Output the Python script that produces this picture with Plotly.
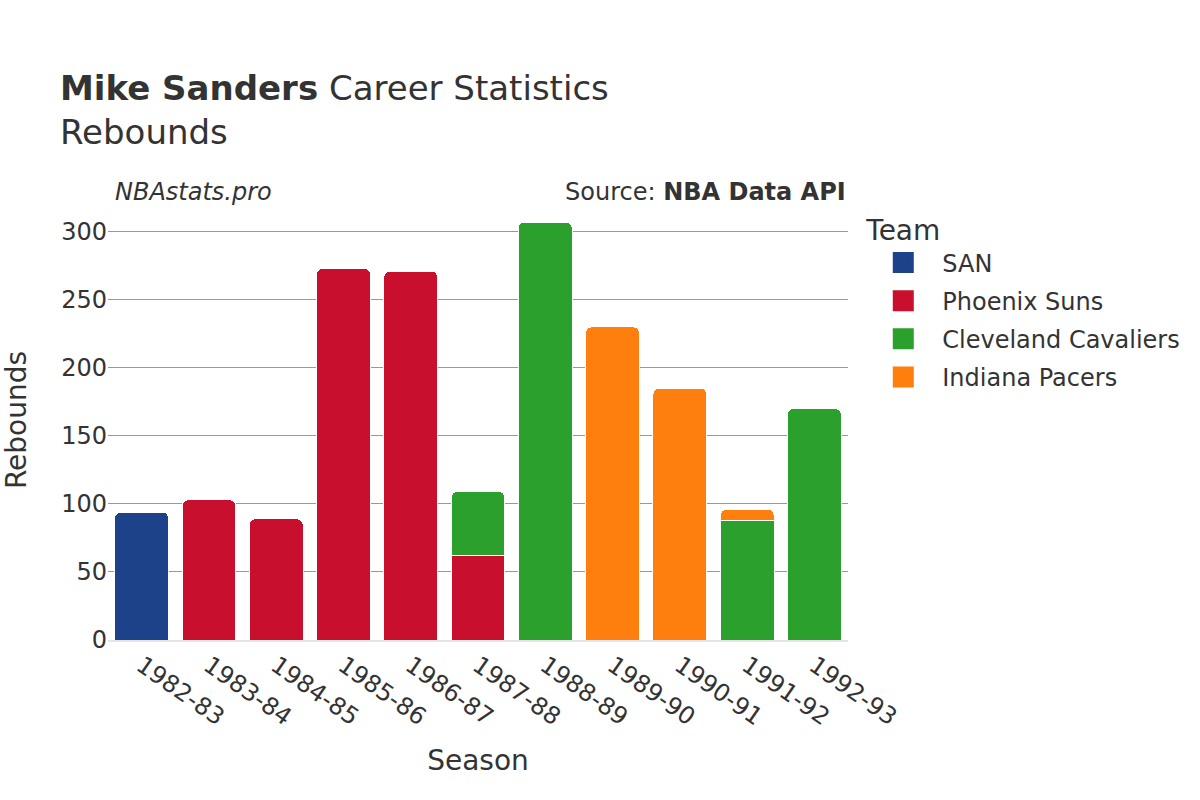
import plotly.graph_objects as go

seasons = ["1982-83", "1983-84", "1984-85", "1985-86", "1986-87", "1987-88",
           "1988-89", "1989-90", "1990-91", "1991-92", "1992-93"]
teams = ["SAN", "Phoenix Suns", "Cleveland Cavaliers", "Indiana Pacers"]
colors = ["#1d428a", "#c8102e", "#2ca02c", "#ff7f0e"]
san = [94, None, None, None, None, None, None, None, None, None, None]
phx = [None, 103, 89, 273, 271, 62, None, None, None, None, None]
cle = [None, None, None, None, None, 47, 307, None, None, 88, 170]
ind = [None, None, None, None, None, None, None, 230, 185, 8, None]
series = [san, phx, cle, ind]

fig = go.Figure()
for name, vals, col in zip(teams, series, colors):
    fig.add_trace(go.Bar(x=seasons, y=vals, name=name, showlegend=False,
                         marker=dict(color=col, line=dict(color="white", width=1))))
for name, col in zip(teams, colors):
    fig.add_trace(go.Scatter(x=[None], y=[None], mode="markers", name=name,
                             legendgroup=name,
                             marker=dict(symbol="square", size=16, color=col,
                                         line=dict(color=col, width=5))))

font = "DejaVu Sans"
fig.update_layout(
    barmode="stack",
    barcornerradius=6,
    width=1200, height=800,
    paper_bgcolor="white", plot_bgcolor="white",
    font=dict(family=font, color="#333333", size=24),
    margin=dict(l=108, r=352, t=200, b=160),
    title=dict(text="<b>Mike Sanders</b> Career Statistics<br>Rebounds",
               x=0.05, xanchor="left", y=0.875, yanchor="top",
               font=dict(size=34, family=font, color="#333333")),
    legend=dict(title=dict(text="Team", font=dict(size=28)), font=dict(size=24),
                x=1.022, xanchor="left", y=0.991, yanchor="top",
                traceorder="grouped", itemwidth=68, tracegroupgap=4),
    xaxis=dict(title=dict(text="Season", font=dict(size=28), standoff=20), tickangle=35,
               tickfont=dict(size=24), showline=True, linecolor="#e5e5e5", linewidth=2),
    yaxis=dict(title=dict(text="Rebounds", font=dict(size=28), standoff=27),
               tickfont=dict(size=24),
               gridcolor="#999999", gridwidth=1, zeroline=False),
    bargap=0.2,
    annotations=[
        dict(text="<i>NBAstats.pro</i>", xref="paper", yref="paper", x=0.0, y=1.0,
             xanchor="left", yanchor="bottom", showarrow=False, xshift=5, yshift=-8,
             font=dict(size=24, family=font, color="#333333")),
        dict(text="Source: <b>NBA Data API</b>", xref="paper", yref="paper", x=1.0, y=1.0,
             xanchor="right", yanchor="bottom", showarrow=False, yshift=-8,
             font=dict(size=24, family=font, color="#333333")),
    ],
)
fig.write_html("out.html", config={"displayModeBar": False},
               post_script="document.body.style.margin='0';")
